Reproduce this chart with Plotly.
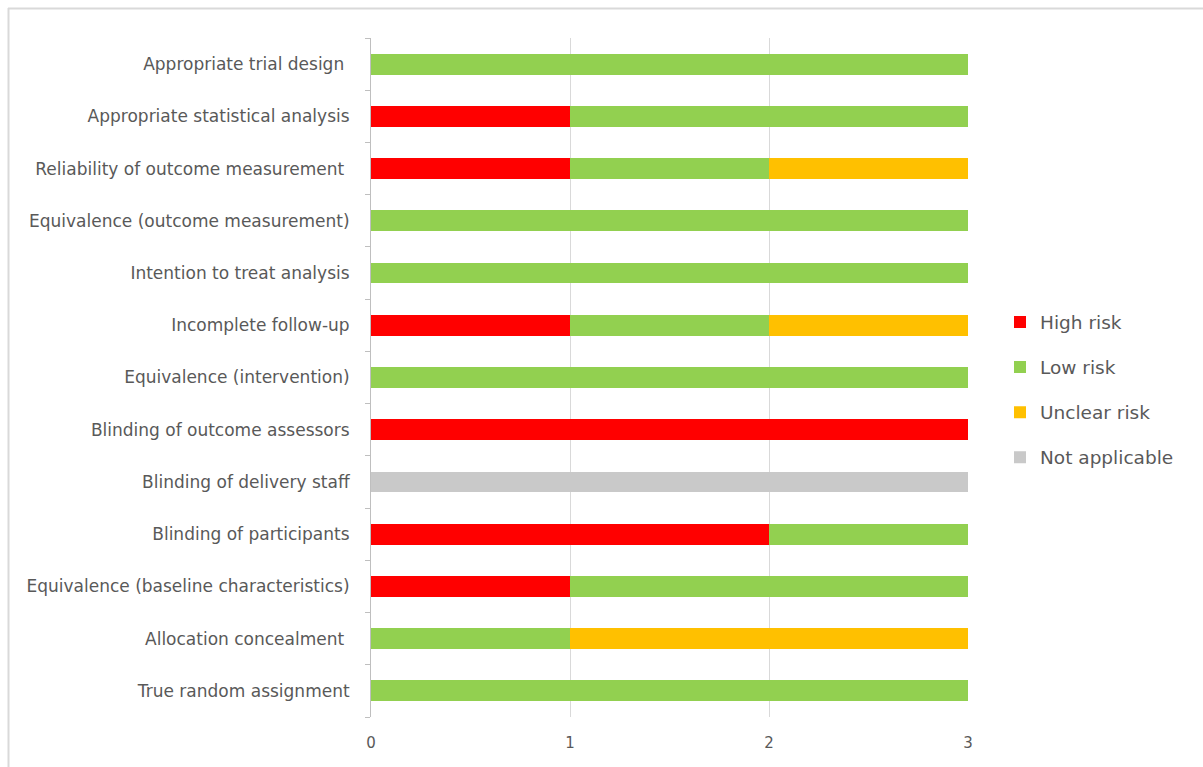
import plotly.graph_objects as go

# Risk-of-bias domains, listed bottom to top
domains = [
    "True random assignment",
    "Allocation concealment ",
    "Equivalence (baseline characteristics)",
    "Blinding of participants",
    "Blinding of delivery staff",
    "Blinding of outcome assessors",
    "Equivalence (intervention)",
    "Incomplete follow-up",
    "Intention to treat analysis",
    "Equivalence (outcome measurement)",
    "Reliability of outcome measurement ",
    "Appropriate statistical analysis",
    "Appropriate trial design ",
]

# Number of trials per judgement for each domain
high_risk = [0, 0, 1, 2, 0, 3, 0, 1, 0, 0, 1, 1, 0]
low_risk = [3, 1, 2, 1, 0, 0, 3, 1, 3, 3, 1, 2, 3]
unclear_risk = [0, 2, 0, 0, 0, 0, 0, 1, 0, 0, 1, 0, 0]
not_applicable = [0, 0, 0, 0, 3, 0, 0, 0, 0, 0, 0, 0, 0]

x_ticks = [0, 1, 2, 3]

series = [
    ("High risk", high_risk, "#FF0000"),
    ("Low risk", low_risk, "#92D050"),
    ("Unclear risk", unclear_risk, "#FFC000"),
    ("Not applicable", not_applicable, "#C9C9C9"),
]

fig = go.Figure()
for name, vals, color in series:
    fig.add_trace(go.Bar(
        y=domains, x=vals, name=name, orientation="h",
        marker=dict(color=color, line=dict(width=0)),
        legendgroup=name,
    ))

W, H = 1203, 767
ml, mr, mt, mb = 371, 235, 38, 50
pw, ph = W - ml - mr, H - mt - mb


def px_x(px):
    return (px - ml) / pw


def px_y(py):
    return (H - mb - py) / ph


FONT = "'DejaVu Sans', Verdana, sans-serif"

fig.update_layout(
    width=W, height=H,
    margin=dict(l=ml, r=mr, t=mt, b=mb, pad=0),
    barmode="stack",
    bargap=0.6,
    plot_bgcolor="white",
    paper_bgcolor="white",
    font=dict(family=FONT, color="#595959", size=15),
    legend=dict(
        x=px_x(1000), xanchor="left",
        y=px_y(390), yanchor="middle",
        traceorder="grouped",
        tracegroupgap=18,
        font=dict(size=18.5, color="#595959"),
        itemwidth=30,
        bgcolor="rgba(0,0,0,0)",
    ),
    xaxis=dict(
        range=[0, 3],
        tickvals=x_ticks,
        showgrid=True, gridcolor="#D9D9D9", gridwidth=1,
        zeroline=False, showline=False,
        ticks="", tickfont=dict(size=15, color="#595959"),
        ticklabelstandoff=15,
    ),
    yaxis=dict(
        type="category",
        categoryorder="array", categoryarray=domains,
        showline=True, linecolor="#BFBFBF", linewidth=1,
        ticks="outside", tickson="boundaries", ticklen=5,
        tickcolor="#BFBFBF", tickwidth=1,
        tickfont=dict(size=17, color="#595959"),
        ticklabelstandoff=17,
        showgrid=False,
    ),
    shapes=[
        dict(type="line", xref="paper", yref="paper",
             x0=px_x(8.5), x1=px_x(8.5), y0=px_y(8), y1=px_y(767),
             line=dict(color="#D9D9D9", width=2)),
        dict(type="line", xref="paper", yref="paper",
             x0=px_x(8), x1=px_x(1203), y0=px_y(8.5), y1=px_y(8.5),
             line=dict(color="#D9D9D9", width=2)),
    ],
)

fig.write_html("out.html")
